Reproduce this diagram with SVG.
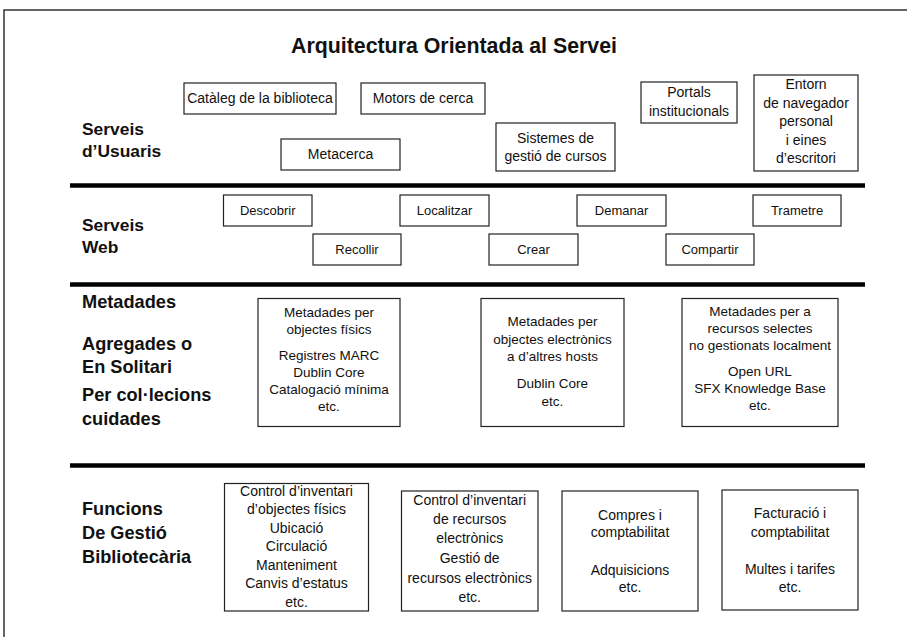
<svg xmlns="http://www.w3.org/2000/svg" width="907" height="637" viewBox="0 0 907 637">
<style>
text{font-family:"Liberation Sans",Arial,sans-serif;fill:#111;}
.t{font-size:21.3px;font-weight:bold;text-anchor:middle;}
.lab{font-size:17.4px;font-weight:bold;}
.lab2{font-size:18.2px;font-weight:bold;}
.b{fill:#fff;stroke:#222;stroke-width:1.2;}
.s14{font-size:14px;text-anchor:middle;}
.s13{font-size:13px;text-anchor:middle;}
.m{font-size:13.5px;text-anchor:middle;}
.f{font-size:14px;text-anchor:middle;}
.sep{stroke:#000;stroke-width:4.5;}
</style>
<rect width="907" height="637" fill="#fff"/>
<path d="M4,637 V10 H907" fill="none" stroke="#333" stroke-width="1.5"/>
<text class="t" x="454" y="53" textLength="326" lengthAdjust="spacingAndGlyphs">Arquitectura Orientada al Servei</text>

<g id="separators">
<line class="sep" x1="70" y1="185.5" x2="865" y2="185.5"/>
<line class="sep" x1="70" y1="284.5" x2="865" y2="284.5"/>
<line class="sep" x1="70" y1="465.5" x2="865" y2="465.5"/>
</g>

<g id="labels">
<text class="lab" x="82" y="135">Serveis</text>
<text class="lab" x="82" y="157">d’Usuaris</text>
<text class="lab" x="82" y="231">Serveis</text>
<text class="lab" x="82" y="253">Web</text>
<text class="lab2" x="82" y="308">Metadades</text>
<text class="lab2" x="82" y="350">Agregades o</text>
<text class="lab2" x="82" y="373">En Solitari</text>
<text class="lab2" x="82" y="401">Per col·lecions</text>
<text class="lab2" x="82" y="425">cuidades</text>
<text class="lab2" x="82" y="515">Funcions</text>
<text class="lab2" x="82" y="539">De Gestió</text>
<text class="lab2" x="82" y="563">Bibliotecària</text>
</g>

<g id="cataleg"><rect class="b" x="184" y="83" width="152" height="31"/><text class="s14" x="260" y="103">Catàleg de la biblioteca</text></g>
<g id="motors"><rect class="b" x="361" y="83" width="124" height="31"/><text class="s14" x="423" y="103">Motors de cerca</text></g>
<g id="metacerca"><rect class="b" x="281" y="139" width="119" height="31"/><text class="s14" x="340.5" y="159">Metacerca</text></g>
<g id="sistemes"><rect class="b" x="496" y="123" width="119" height="48"/><text class="s14" x="555.5" y="142.5">Sistemes de</text><text class="s14" x="555.5" y="160.5">gestió de cursos</text></g>
<g id="portals"><rect class="b" x="641" y="82" width="96" height="41"/><text class="s14" x="689" y="97">Portals</text><text class="s14" x="689" y="116">institucionals</text></g>
<g id="entorn"><rect class="b" x="754" y="75" width="104" height="96"/>
<text class="s14" x="806" y="89">Entorn</text><text class="s14" x="806" y="107.5">de navegador</text><text class="s14" x="806" y="126">personal</text><text class="s14" x="806" y="144.5">i eines</text><text class="s14" x="806" y="163">d’escritori</text></g>

<g id="descobrir"><rect class="b" x="223.5" y="195" width="88.5" height="31"/><text class="s13" x="267.7" y="214.5">Descobrir</text></g>
<g id="localitzar"><rect class="b" x="400" y="195" width="89" height="31"/><text class="s13" x="444.5" y="214.5">Localitzar</text></g>
<g id="demanar"><rect class="b" x="577" y="195" width="89" height="31"/><text class="s13" x="621.5" y="214.5">Demanar</text></g>
<g id="trametre"><rect class="b" x="753" y="195" width="88" height="31"/><text class="s13" x="797" y="214.5">Trametre</text></g>
<g id="recollir"><rect class="b" x="313" y="234" width="88" height="31"/><text class="s13" x="357" y="253.5">Recollir</text></g>
<g id="crear"><rect class="b" x="489" y="234" width="89" height="31"/><text class="s13" x="533.5" y="253.5">Crear</text></g>
<g id="compartir"><rect class="b" x="666" y="234" width="88" height="31"/><text class="s13" x="710" y="253.5">Compartir</text></g>

<g id="meta1"><rect class="b" x="258" y="298.5" width="142" height="128"/>
<text class="m" x="329" y="317">Metadades per</text><text class="m" x="329" y="334">objectes físics</text>
<text class="m" x="329" y="360">Registres MARC</text><text class="m" x="329" y="377">Dublin Core</text><text class="m" x="329" y="394">Catalogació mínima</text><text class="m" x="329" y="411">etc.</text></g>
<g id="meta2"><rect class="b" x="481" y="298.5" width="143" height="128"/>
<text class="m" x="552.5" y="326">Metadades per</text><text class="m" x="552.5" y="344">objectes electrònics</text><text class="m" x="552.5" y="361">a d’altres hosts</text>
<text class="m" x="552.5" y="388">Dublin Core</text><text class="m" x="552.5" y="406">etc.</text></g>
<g id="meta3"><rect class="b" x="682" y="298.5" width="156" height="128"/>
<text class="m" x="760" y="316">Metadades per a</text><text class="m" x="760" y="333">recursos selectes</text><text class="m" x="760" y="350">no gestionats localment</text>
<text class="m" x="760" y="376">Open URL</text><text class="m" x="760" y="393">SFX Knowledge Base</text><text class="m" x="760" y="410">etc.</text></g>

<g id="func1"><rect class="b" x="224.5" y="483.5" width="144" height="127.5"/>
<text class="f" x="296.5" y="496">Control d’inventari</text><text class="f" x="296.5" y="514">d’objectes físics</text><text class="f" x="296.5" y="533">Ubicació</text><text class="f" x="296.5" y="551">Circulació</text><text class="f" x="296.5" y="570">Manteniment</text><text class="f" x="296.5" y="588">Canvis d’estatus</text><text class="f" x="296.5" y="607">etc.</text></g>
<g id="func2"><rect class="b" x="401.5" y="491" width="136.5" height="120"/>
<text class="f" x="469.7" y="505">Control d’inventari</text><text class="f" x="469.7" y="524">de recursos</text><text class="f" x="469.7" y="543">electrònics</text><text class="f" x="469.7" y="563">Gestió de</text><text class="f" x="469.7" y="583">recursos electrònics</text><text class="f" x="469.7" y="602">etc.</text></g>
<g id="func3"><rect class="b" x="562" y="491" width="136" height="120"/>
<text class="f" x="630" y="520">Compres i</text><text class="f" x="630" y="537">comptabilitat</text><text class="f" x="630" y="575">Adquisicions</text><text class="f" x="630" y="592">etc.</text></g>
<g id="func4"><rect class="b" x="722" y="490" width="136" height="120"/>
<text class="f" x="790" y="518">Facturació i</text><text class="f" x="790" y="537">comptabilitat</text><text class="f" x="790" y="574">Multes i tarifes</text><text class="f" x="790" y="592">etc.</text></g>
</svg>
